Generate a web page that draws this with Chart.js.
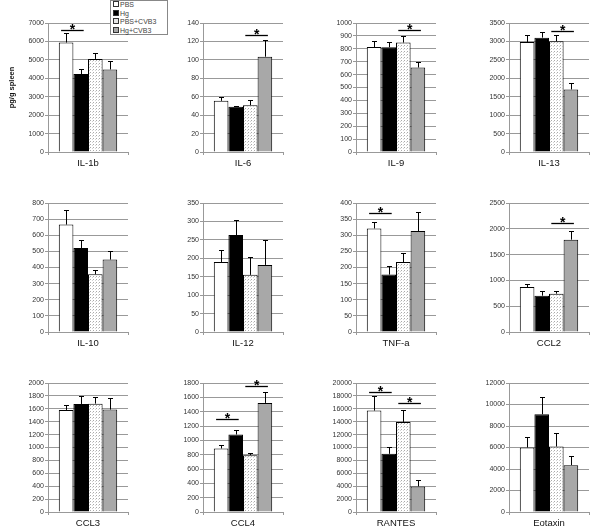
<!DOCTYPE html>
<html>
<head>
<meta charset="utf-8">
<script src="https://cdn.jsdelivr.net/npm/chart.js@4.4.0/dist/chart.umd.min.js"></script>
<style>
  body { margin: 0; background: #fff; width: 600px; height: 531px; position: relative; overflow: hidden;
         font-family: "Liberation Sans", Arial, sans-serif; }
  canvas.panel { position: absolute; }
  #legend { position: absolute; z-index: 5; left: 110px; top: 0; width: 58px; height: 35px; border: 1px solid #888;
            background: #fff; font-size: 7px; color: #444; line-height: 8.5px; box-sizing: border-box; }
  #legend div { white-space: nowrap; padding-left: 2px; color: #444; }
  #legend span { display: inline-block; width: 4px; height: 4px; border: 1px solid #333; margin-right: 1px; vertical-align: 0px; }
</style>
</head>
<body>
<div id="legend"></div>
<script>
const cytokines = ['IL-1b', 'IL-6', 'IL-9', 'IL-13', 'IL-10', 'IL-12', 'TNF-a', 'CCL2', 'CCL3', 'CCL4', 'RANTES', 'Eotaxin'];
const groups    = ['PBS', 'Hg', 'PBS+CVB3', 'Hg+CVB3'];

// bar heights, one row per cytokine, in group order
const means = [
    [5940, 4230, 5050, 4480],
    [55.5, 49, 50.8, 103.4],
    [814, 812, 848, 655],
    [2985, 3103, 3005, 1696],
    [666, 521, 358, 449],
    [190, 263, 155, 182],
    [321, 178, 217, 313],
    [872, 704, 743, 1789],
    [1582, 1675, 1680, 1588],
    [886, 1081, 793, 1522],
    [15720, 9020, 13970, 3970],
    [6000, 9090, 6090, 4360],
];

// top of each error bar (mean + SEM)
const errTops = [
    [6450, 4500, 5360, 4940],
    [60.2, 49.7, 56.6, 121.9],
    [858, 856, 897, 701],
    [3175, 3266, 3166, 1876],
    [757, 568, 384, 504],
    [222, 303, 203, 250],
    [342, 204, 245, 372],
    [930, 795, 795, 1964],
    [1660, 1799, 1789, 1763],
    [937, 1141, 821, 1675],
    [18040, 10155, 15880, 4900],
    [6960, 10730, 7360, 5200],
];

const axisMax  = [7000, 140, 1000, 3500, 800, 350, 400, 2500, 2000, 1800, 20000, 12000];
const axisStep = [1000, 20, 100, 500, 100, 50, 50, 500, 200, 200, 2000, 2000];

// significance bars: [from group, to group, value]
const sigPairs = [
    [[0, 1, 6630]],
    [[2, 3, 127]],
    [[2, 3, 943]],
    [[2, 3, 3283]],
    [],
    [],
    [[0, 1, 369]],
    [[2, 3, 2119]],
    [],
    [[0, 1, 1299], [2, 3, 1763]],
    [[0, 1, 18600], [2, 3, 16900]],
    [],
];

const colAxisX = [48, 203, 356, 509];
const rowTop   = [23, 203, 383];
const plotW = 80, plotH = 129;
const padTop = 8, axisW = 48, axisH = 25, padRight = 10;

// light stipple for the PBS+CVB3 bars
function makeDots() {
    const c = document.createElement('canvas');
    c.width = 3; c.height = 3;
    const g = c.getContext('2d');
    g.fillStyle = '#fff';
    g.fillRect(0, 0, 3, 3);
    g.fillStyle = '#aaaaaa';
    g.fillRect(0, 0, 1, 1);
    g.fillStyle = '#d4d4d4';
    g.fillRect(2, 1, 1, 1);
    return g.createPattern(c, 'repeat');
}
const dots = makeDots();
const fills = ['#ffffff', '#000000', dots, '#a8a8a8'];

// legend
document.getElementById('legend').innerHTML = groups.map((g, i) => {
    const bg = i === 2 ? '#e6e6e6' : fills[i];
    return `<div><span style="background:${bg}"></span>${g}</div>`;
}).join('');

const errorBars = {
    id: 'errorBars',
    afterDatasetsDraw(chart, args, opts) {
        const ctx = chart.ctx;
        const y = chart.scales.y;
        ctx.save();
        ctx.strokeStyle = '#000';
        ctx.lineWidth = 1;
        opts.tops.forEach((top, i) => {
            const bar = chart.getDatasetMeta(i).data[0];
            const x  = Math.round(bar.x) + 0.5;
            const yt = Math.round(y.getPixelForValue(top)) + 0.5;
            ctx.beginPath();
            ctx.moveTo(x, bar.y);
            ctx.lineTo(x, yt);
            ctx.moveTo(x - 2.5, yt);
            ctx.lineTo(x + 2.5, yt);
            ctx.stroke();
        });

        opts.sig.forEach(([a, b, v]) => {
            const x1 = chart.getDatasetMeta(a).data[0].x - 5;
            const x2 = chart.getDatasetMeta(b).data[0].x + 3;
            const yl = Math.round(y.getPixelForValue(v)) + 0.5;
            ctx.lineWidth = 1.3;
            ctx.beginPath();
            ctx.moveTo(x1, yl);
            ctx.lineTo(x2, yl);
            ctx.stroke();
            ctx.fillStyle = '#000';
            ctx.font = 'bold 14px "Liberation Sans", Arial, sans-serif';
            ctx.textAlign = 'center';
            ctx.textBaseline = 'alphabetic';
            ctx.fillText('*', (x1 + x2) / 2, yl + 3);
        });
        ctx.restore();
    }
};

cytokines.forEach((name, p) => {
    const col = p % 4, row = Math.floor(p / 4);
    const canvas = document.createElement('canvas');
    canvas.className = 'panel';
    canvas.width  = axisW + plotW + padRight;
    canvas.height = padTop + plotH + axisH;
    canvas.style.left = (colAxisX[col] - axisW) + 'px';
    canvas.style.top  = (rowTop[row] - padTop) + 'px';
    document.body.appendChild(canvas);

    new Chart(canvas, {
        type: 'bar',
        data: {
            labels: [name],
            datasets: groups.map((g, i) => ({
                label: g,
                data: [means[p][i]],
                backgroundColor: fills[i],
                borderColor: '#000',
                borderWidth: 1,
                barPercentage: 1,
                categoryPercentage: 0.73,
            }))
        },
        options: {
            responsive: false,
            animation: false,
            layout: { padding: { top: padTop, right: padRight, left: 0, bottom: 0 } },
            plugins: {
                legend: { display: false },
                tooltip: { enabled: false },
                errorBars: { tops: errTops[p], sig: sigPairs[p] },
            },
            scales: {
                x: {
                    grid: { display: true, drawOnChartArea: false, tickLength: 3, color: '#999' },
                    border: { color: '#999' },
                    ticks: { font: { size: 9.5, family: '"Liberation Sans", Arial, sans-serif' }, color: '#111', padding: 3 },
                    afterFit(s) { s.height = axisH; },
                },
                y: {
                    min: 0,
                    max: axisMax[p],
                    ticks: {
                        stepSize: axisStep[p],
                        autoSkip: false,
                        font: { size: 7, family: '"Liberation Sans", Arial, sans-serif' },
                        color: '#333',
                        padding: 1,
                        callback: v => String(v),
                    },
                    grid: { color: '#999', tickLength: 3 },
                    border: { color: '#999' },
                    title: {
                        display: p === 0,
                        text: 'pg/g spleen',
                        color: '#111',
                        font: { size: 7.5, weight: 'bold', family: '"Liberation Sans", Arial, sans-serif' },
                        padding: { top: 7, bottom: 0 },
                    },
                    afterFit(s) { s.width = axisW; },
                }
            }
        },
        plugins: [errorBars]
    });
});
</script>
</body>
</html>
